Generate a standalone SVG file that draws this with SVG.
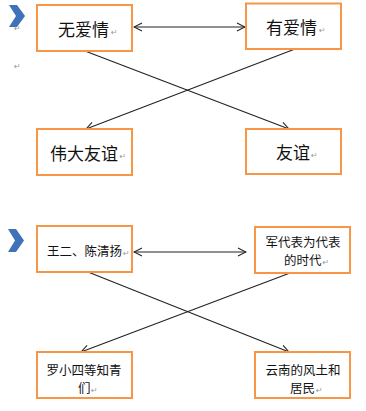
<svg xmlns="http://www.w3.org/2000/svg" width="366" height="411" viewBox="0 0 366 411">
<defs>
<style>
.box{fill:#fff;stroke:#F79646;stroke-width:2}
.t1{font-family:"Noto Sans CJK SC","Liberation Sans",sans-serif;font-size:17px;fill:#111}
.t2{font-family:"Noto Sans CJK SC","Liberation Sans",sans-serif;font-size:12.5px;fill:#111}
.rm{font-family:"DejaVu Sans",sans-serif;font-size:8px;fill:#999}
.ln{stroke:#222;stroke-width:1.1;fill:none}
.chev{fill:#3E73B9}
</style>
<marker id="ah" viewBox="0 0 10 10" refX="9" refY="5" markerWidth="10" markerHeight="10" markerUnits="userSpaceOnUse" orient="auto-start-reverse">
<path d="M1,1 L9,5 L1,9" fill="none" stroke="#222" stroke-width="1.1"/>
</marker>
</defs>
<rect width="366" height="411" fill="#fff"/>
<path class="chev" d="M9,5 L17,5 L25,16 L17,27 L9,27 L16,16 Z"/>
<path class="chev" d="M8,229 L16,229 L24,240.5 L16,252 L8,252 L15,240.5 Z"/>
<text class="rm" x="14" y="31">↵</text>
<text class="rm" x="14" y="69">↵</text>
<g id="connectors">
<line class="ln" x1="134" y1="27" x2="245" y2="27" marker-start="url(#ah)" marker-end="url(#ah)"/>
<line class="ln" x1="85" y1="51" x2="289" y2="129" marker-end="url(#ah)"/>
<line class="ln" x1="295" y1="49" x2="86" y2="129" marker-end="url(#ah)"/>
<line class="ln" x1="134" y1="252" x2="246" y2="252" marker-start="url(#ah)" marker-end="url(#ah)"/>
<line class="ln" x1="88" y1="272" x2="289" y2="352" marker-end="url(#ah)"/>
<line class="ln" x1="290" y1="273" x2="81" y2="352" marker-end="url(#ah)"/>
</g>
<g id="n1"><rect class="box" x="37" y="5" width="95" height="46"/><text class="t1" x="58" y="36">无爱情</text><text class="rm" x="111" y="35">↵</text></g>
<g id="n2"><rect class="box" x="246" y="3.5" width="95" height="45.5"/><text class="t1" x="266" y="34">有爱情</text><text class="rm" x="319" y="33">↵</text></g>
<g id="n3"><rect class="box" x="37" y="129" width="95" height="46"/><text class="t1" x="50" y="160">伟大友谊</text><text class="rm" x="119.5" y="159">↵</text></g>
<g id="n4"><rect class="box" x="246" y="129" width="95" height="45"/><text class="t1" x="276" y="159">友谊</text><text class="rm" x="311" y="158">↵</text></g>
<g id="n5"><rect class="box" x="37" y="226" width="95" height="46"/><text class="t2" x="47" y="256">王二、陈清扬</text><text class="rm" x="123" y="256">↵</text></g>
<g id="n6"><rect class="box" x="255" y="227" width="95" height="46"/><text class="t2" x="265.5" y="246.5">军代表为代表</text><text class="t2" x="284" y="264.5">的时代</text><text class="rm" x="322.5" y="264.5">↵</text></g>
<g id="n7"><rect class="box" x="37" y="352" width="95" height="46"/><text class="t2" x="46.5" y="374.5">罗小四等知青</text><text class="t2" x="78" y="392.5">们</text><text class="rm" x="91" y="392.5">↵</text></g>
<g id="n8"><rect class="box" x="255" y="352" width="95" height="46"/><text class="t2" x="265.5" y="374.5">云南的风土和</text><text class="t2" x="290" y="392.5">居民</text><text class="rm" x="316" y="392.5">↵</text></g>
</svg>
